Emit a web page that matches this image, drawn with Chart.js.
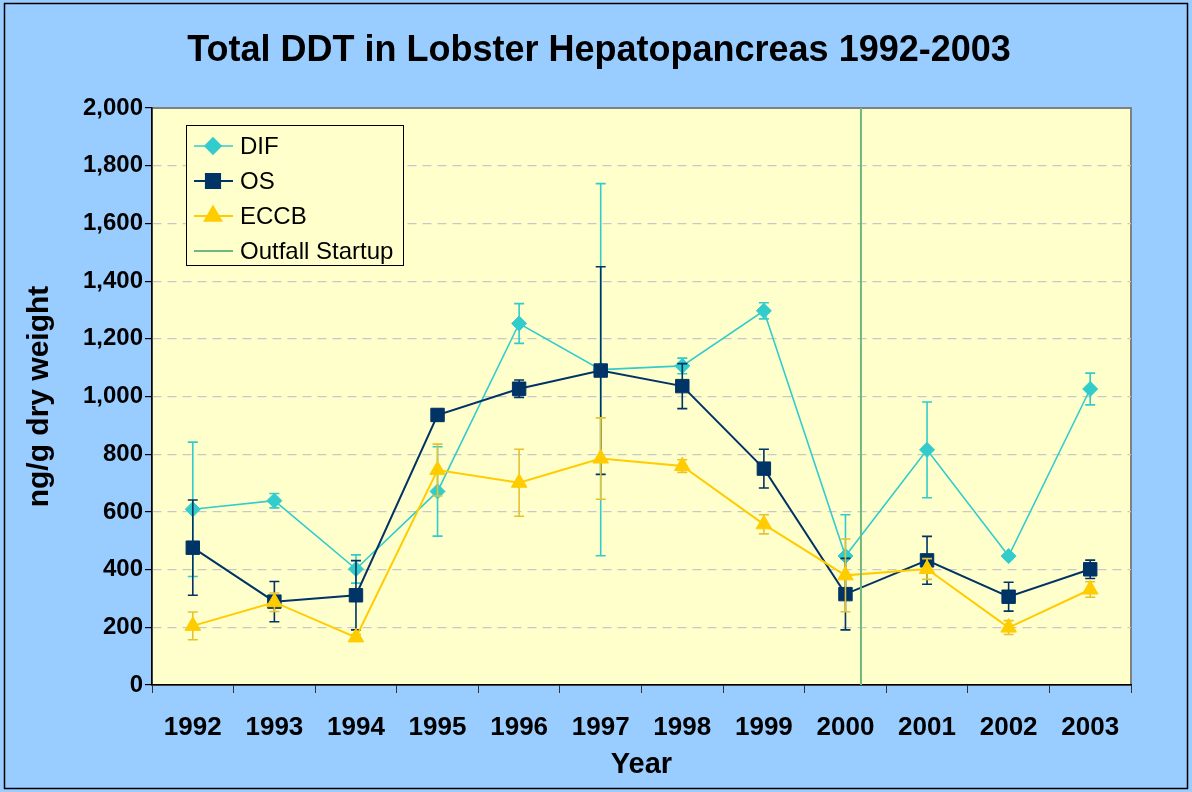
<!DOCTYPE html>
<html>
<head>
<meta charset="utf-8">
<script src="https://cdn.jsdelivr.net/npm/chart.js@4"></script>
<style>
  body { margin: 0; background: #99CCFF; }
  canvas { display: block; }
</style>
</head>
<body>
<canvas id="chart" width="1192" height="792"></canvas>
<script>
const years = ["1992", "1993", "1994", "1995", "1996", "1997", "1998", "1999", "2000", "2001", "2002", "2003"];

const difValues = [609, 639, 402, 671, 1253, 1093, 1106, 1297, 447, 815, 447, 1026];
const difErrors = [233, 25, 49, 155, 69, 645, 27, 28, 143, 166, 8, 55];

const osValues = [476, 289, 311, 936, 1027, 1090, 1036, 750, 315, 432, 306, 401];
const osErrors = [165, 70, 120, 20, 30, 360, 78, 67, 124, 83, 50, 32];

const eccbValues = [205, 287, 165, 745, 701, 785, 759, 557, 380, 402, 199, 331];
const eccbErrors = [48, 32, 10, 90, 116, 141, 22, 33, 126, 36, 24, 27];

// outfall startup, in category units (index of 2000 = 8)
const outfallStartup = 8.19;

const chartTitle = "Total DDT in Lobster Hepatopancreas 1992-2003";

const FONT = "'Liberation Sans', Arial, sans-serif";

const errorBars = {
  id: "errorBars",
  beforeDatasetDraw(chart, args) {
    const ds = chart.data.datasets[args.index];
    if (!ds.errors) return;
    const ctx = chart.ctx;
    const y = chart.scales.y;
    ctx.save();
    ctx.strokeStyle = ds.errorColor || ds.borderColor;
    ctx.lineWidth = 1.6;
    args.meta.data.forEach((pt, i) => {
      const v = ds.data[i], e = ds.errors[i];
      const top = y.getPixelForValue(v + e);
      const bot = y.getPixelForValue(v - e);
      ctx.beginPath();
      ctx.moveTo(pt.x, top);
      ctx.lineTo(pt.x, bot);
      ctx.moveTo(pt.x - 5, top);
      ctx.lineTo(pt.x + 5, top);
      ctx.moveTo(pt.x - 5, bot);
      ctx.lineTo(pt.x + 5, bot);
      ctx.stroke();
    });
    ctx.restore();
  }
};

const background = {
  id: "background",
  beforeDraw(chart) {
    const { ctx, chartArea: a } = chart;
    ctx.save();
    ctx.fillStyle = "#99CCFF";
    ctx.fillRect(0, 0, chart.width, chart.height);
    ctx.strokeStyle = "#000";
    ctx.lineWidth = 1.5;
    ctx.strokeRect(4.5, 3.5, 1183, 785);
    ctx.fillStyle = "#FFFFCC";
    ctx.fillRect(a.left, a.top, a.right - a.left, a.bottom - a.top);
    ctx.strokeStyle = "#808080";
    ctx.lineWidth = 2;
    ctx.strokeRect(a.left, a.top, a.right - a.left, a.bottom - a.top);
    // title, centred on the whole picture
    ctx.fillStyle = "#000";
    ctx.font = "bold 36px " + FONT;
    ctx.textAlign = "center";
    ctx.textBaseline = "middle";
    ctx.fillText(chartTitle, chart.width / 2 + 3, 51);
    ctx.restore();
  }
};

const boxLegend = {
  id: "boxLegend",
  afterDraw(chart) {
    const ctx = chart.ctx;
    const x0 = 186, y0 = 125, w = 217, h = 140;
    ctx.save();
    ctx.fillStyle = "#FFFFCC";
    ctx.fillRect(x0, y0, w, h);
    ctx.strokeStyle = "#000";
    ctx.lineWidth = 1;
    ctx.strokeRect(x0 + 0.5, y0 + 0.5, w, h);
    chart.data.datasets.forEach((ds, i) => {
      const cy = y0 + 21 + i * 35;
      ctx.strokeStyle = ds.borderColor;
      ctx.lineWidth = ds.borderWidth;
      ctx.beginPath();
      ctx.moveTo(x0 + 8, cy);
      ctx.lineTo(x0 + 47, cy);
      ctx.stroke();
      if (ds.pointStyle && ds.pointRadius) {
        ctx.fillStyle = ds.backgroundColor;
        Chart.helpers.drawPoint(ctx, {
          pointStyle: ds.pointStyle,
          radius: ds.pointRadius + 0.5,
          borderWidth: 1,
          rotation: 0
        }, x0 + 27, cy);
        ctx.fill();
      }
      ctx.fillStyle = "#000";
      ctx.font = "24px " + FONT;
      ctx.textBaseline = "middle";
      ctx.textAlign = "left";
      ctx.fillText(ds.label, x0 + 54, cy + 1);
    });
    ctx.restore();
  }
};

new Chart(document.getElementById("chart"), {
  type: "line",
  data: {
    labels: years,
    datasets: [
      {
        label: "DIF",
        data: difValues,
        errors: difErrors,
        borderColor: "#33CCCC",
        backgroundColor: "#33CCCC",
        borderWidth: 1.6,
        pointStyle: "rectRot",
        pointRadius: 7.5,
        pointBorderWidth: 1,
        order: 3,
      },
      {
        label: "OS",
        data: osValues,
        errors: osErrors,
        borderColor: "#003366",
        backgroundColor: "#003366",
        borderWidth: 2,
        pointStyle: "rect",
        pointRadius: 9.5,
        pointBorderWidth: 1,
        order: 2,
      },
      {
        label: "ECCB",
        data: eccbValues,
        errors: eccbErrors,
        errorColor: "#E5C232",
        borderColor: "#FFCC00",
        backgroundColor: "#FFCC00",
        borderWidth: 2,
        pointStyle: "triangle",
        pointRadius: 9,
        pointBorderWidth: 1,
        order: 1,
      },
      {
        label: "Outfall Startup",
        data: [{ x: outfallStartup, y: 0 }, { x: outfallStartup, y: 2000 }],
        xAxisID: "x2",
        borderColor: "#70B880",
        backgroundColor: "#70B880",
        borderWidth: 2,
        pointRadius: 0,
        order: 0,
      },
    ],
  },
  options: {
    responsive: false,
    animation: false,
    layout: { padding: { left: 8, right: 61, top: 108, bottom: 8 } },
    plugins: {
      legend: { display: false },
      tooltip: { enabled: false },
      title: { display: false },
    },
    scales: {
      x: {
        type: "category",
        offset: true,
        grid: { drawOnChartArea: false, offset: true, tickLength: 8, tickColor: "#333" },
        border: { color: "#000", width: 1.5 },
        ticks: {
          color: "#000",
          padding: 19.4,
          maxRotation: 0,
          autoSkip: false,
          font: { family: FONT, size: 26, weight: "bold" },
        },
        title: {
          display: true,
          text: "Year",
          color: "#000",
          font: { family: FONT, size: 29, weight: "bold" },
          padding: { top: 0, bottom: 1.6 },
        },
        afterFit: (s) => { s.height = 99; },
      },
      x2: {
        type: "linear",
        display: false,
        min: -0.5,
        max: 11.5,
      },
      y: {
        min: 0,
        max: 2000,
        ticks: {
          stepSize: 200,
          color: "#000",
          padding: 2,
          font: { family: FONT, size: 24, weight: "bold" },
          callback: (v) => v.toLocaleString("en-US"),
        },
        grid: {
          color: (c) => (c.tick && (c.tick.value === 0 || c.tick.value === 2000) ? "rgba(0,0,0,0)" : "#C8C8C8"),
          lineWidth: 1.2,
          tickLength: 7,
          tickColor: "#000",
          tickBorderDash: [],
        },
        border: { color: "#000", width: 1.5, dash: [9, 6] },
        title: {
          display: true,
          text: "ng/g dry weight",
          color: "#000",
          font: { family: FONT, size: 30, weight: "bold" },
          padding: { top: 14, bottom: 0 },
        },
        afterFit: (s) => { s.width = 144; },
      },
    },
  },
  plugins: [background, errorBars, boxLegend],
});
</script>
</body>
</html>
